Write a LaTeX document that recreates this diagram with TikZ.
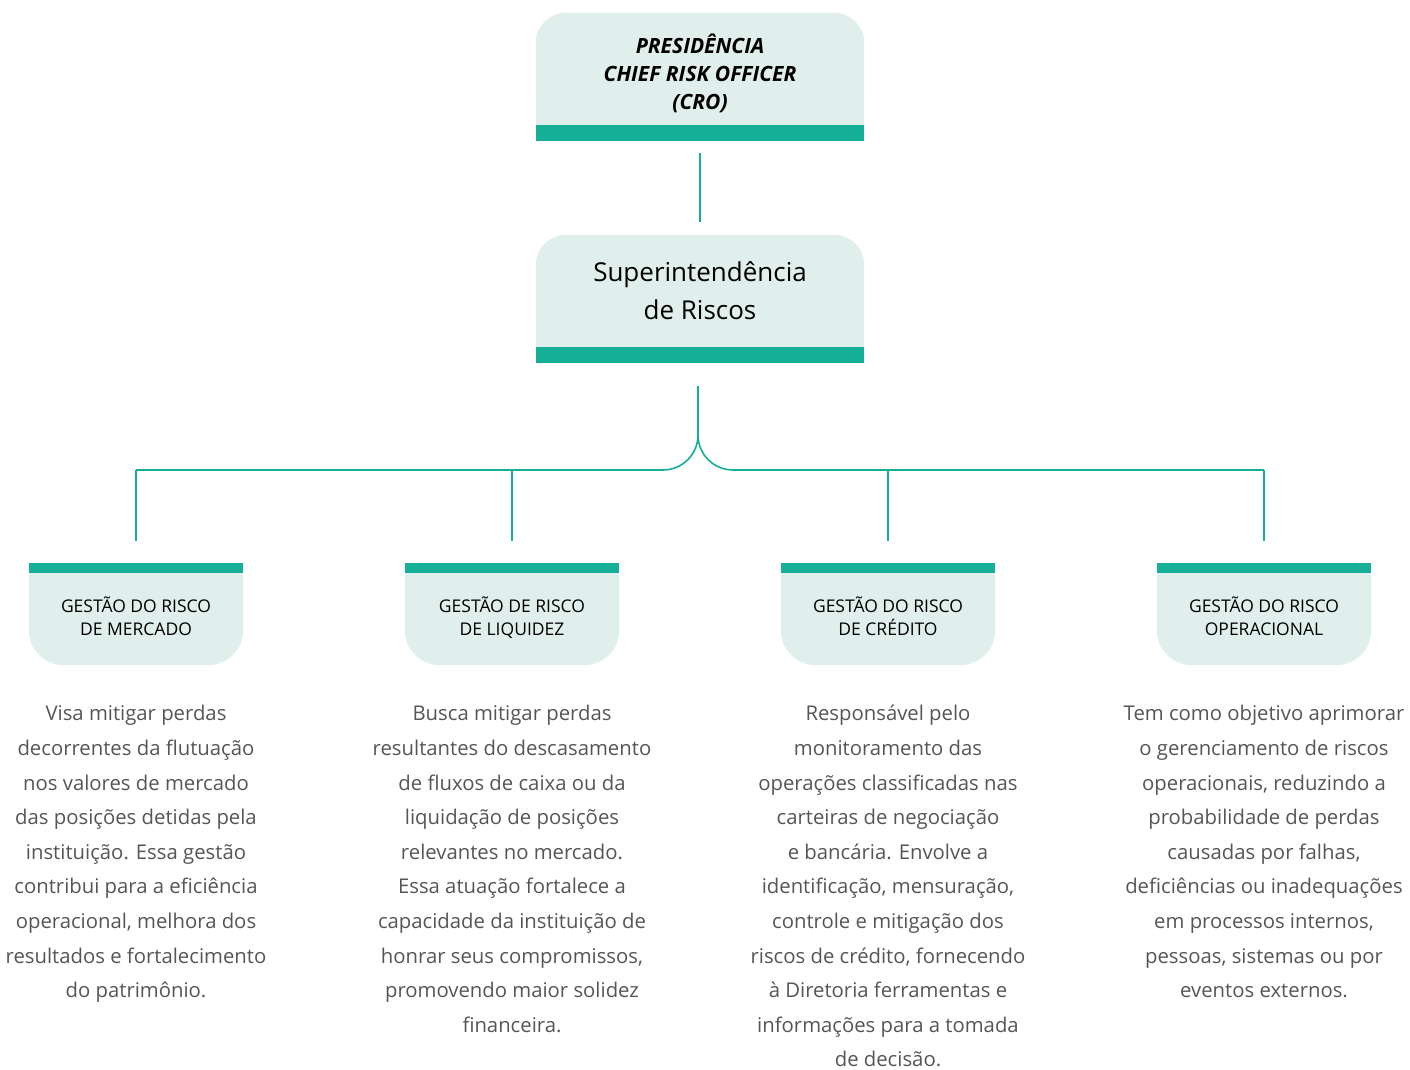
\documentclass[tikz,border=0pt]{standalone}
\usepackage{fontspec}
\setmainfont{Open Sans}
\usetikzlibrary{backgrounds,positioning}
\definecolor{riskteal}{HTML}{14AF96}
\definecolor{riskpale}{HTML}{E1EFEC}
\definecolor{risktext}{HTML}{555555}

\begin{document}
\begin{tikzpicture}[x=1pt,y=-1pt,
   head box/.style={minimum width=328pt,minimum height=112pt,inner sep=0pt,align=center},
   area box/.style={minimum width=214pt,minimum height=92pt,inner sep=0pt,align=center,
      font=\fontsize{17.5}{23}\selectfont,
      execute at end node={\rule[-6pt]{0pt}{0pt}}},
   area text/.style={inner sep=0pt,align=center,text=risktext,
      font=\fontsize{20.3}{34.6}\selectfont},
   link/.style={draw=riskteal,line width=1.6pt}]
\useasboundingbox (0,0) rectangle (1410,1070);

% top of the chart
\node[head box,font=\fontsize{21}{28}\selectfont\bfseries\itshape] (cro) at (700,69)
   {\rule{0pt}{28pt}PRESIDÊNCIA\\CHIEF RISK OFFICER\\(CRO)};
\node[head box,font=\fontsize{26}{38}\selectfont] (sup) at (700,291)
   {Superintendência\\de Riscos};

% the four areas
\node[area box] (mer) at (136,619) {GESTÃO DO RISCO\\DE MERCADO};
\node[area box] (liq) at (512,619) {GESTÃO DE RISCO\\DE LIQUIDEZ};
\node[area box] (cre) at (888,619) {GESTÃO DO RISCO\\DE CRÉDITO};
\node[area box] (ope) at (1264,619) {GESTÃO DO RISCO\\OPERACIONAL};

\node[area text,below=40pt of mer] (mertxt)
   {Visa mitigar perdas\\decorrentes da flutuação\\nos valores de mercado\\das posições detidas pela\\instituição. Essa gestão\\contribui para a eficiência\\operacional, melhora dos\\resultados e fortalecimento\\do patrimônio.};
\node[area text,below=40pt of liq] (liqtxt)
   {Busca mitigar perdas\\resultantes do descasamento\\de fluxos de caixa ou da\\liquidação de posições\\relevantes no mercado.\\Essa atuação fortalece a\\capacidade da instituição de\\honrar seus compromissos,\\promovendo maior solidez\\financeira.};
\node[area text,below=40pt of cre] (cretxt)
   {Responsável pelo\\monitoramento das\\operações classificadas nas\\carteiras de negociação\\e bancária. Envolve a\\identificação, mensuração,\\controle e mitigação dos\\riscos de crédito, fornecendo\\à Diretoria ferramentas e\\informações para a tomada\\de decisão.};
\node[area text,below=40pt of ope] (opetxt)
   {Tem como objetivo aprimorar\\o gerenciamento de riscos\\operacionais, reduzindo a\\probabilidade de perdas\\causadas por falhas,\\deficiências ou inadequações\\em processos internos,\\pessoas, sistemas ou por\\eventos externos.};

\begin{pgfonlayer}{background}
  \foreach \b in {cro,sup}{
    \fill[riskpale,rounded corners=30pt] (\b.south west) rectangle (\b.north east);
    \fill[riskpale] (\b.west) rectangle (\b.south east);
    \fill[riskteal] (\b.south west) rectangle ++(328,16);
  }
  \foreach \b in {mer,liq,cre,ope}{
    \fill[riskpale,rounded corners=35pt] (\b.south west) rectangle (\b.north east);
    \fill[riskpale] (\b.north west) rectangle (\b.east);
    \fill[riskteal] (\b.north west) rectangle ++(214,-10);
  }
\end{pgfonlayer}

% connectors
\coordinate (hub) at (698,470);
\draw[link] ([yshift=-28pt]cro.south) -- ([yshift=13pt]sup.north);
\draw[link,rounded corners=35pt] ([yshift=-39pt,xshift=-2pt]sup.south) |- (liq.north |- hub);
\draw[link,rounded corners=35pt] ([yshift=-39pt,xshift=-2pt]sup.south) |- (cre.north |- hub);
\draw[link] (mer.north |- hub) -- (liq.north |- hub);
\draw[link] (cre.north |- hub) -- (ope.north |- hub);
\foreach \b in {mer,liq,cre,ope}
  \draw[link] (\b.north |- hub) -- ([yshift=32pt]\b.north);
\end{tikzpicture}
\end{document}
